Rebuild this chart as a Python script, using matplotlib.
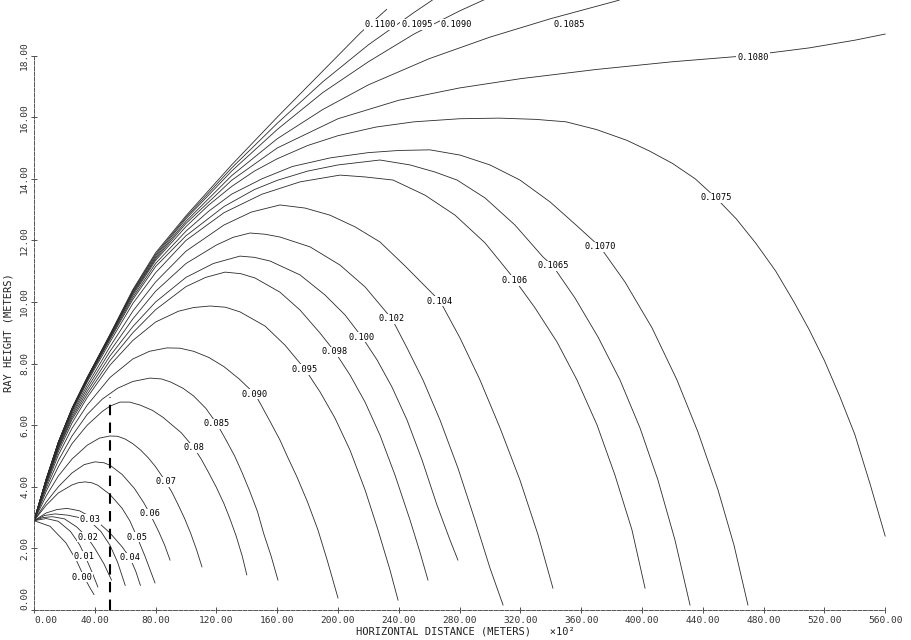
import matplotlib
matplotlib.use("Agg")
import matplotlib.pyplot as plt

# ---------------- data (x in 100 m, y in m) ----------------
x_ticks = [0, 40, 80, 120, 160, 200, 240, 280, 320, 360, 400, 440, 480, 520, 560]
y_ticks = [0, 2, 4, 6, 8, 10, 12, 14, 16, 18]

r_0000_x = [0, 10.5, 21, 28, 33, 36.8, 39.5]
r_0000_y = [2.9, 2.72, 2.18, 1.6, 1.07, 0.72, 0.5]
r_0010_x = [0, 8, 16, 24, 30, 33.6, 38, 42]
r_0010_y = [2.9, 2.97, 2.88, 2.55, 2.12, 1.75, 1.25, 0.75]
r_0020_x = [0, 6, 12, 20, 28, 34.9, 40, 46, 51]
r_0020_y = [2.9, 3.0, 3.03, 2.96, 2.7, 2.37, 2.0, 1.5, 0.97]
r_0030_x = [0, 7, 13.8, 22, 30, 36.8, 44, 50, 55, 60]
r_0030_y = [2.9, 3.07, 3.12, 3.08, 3.0, 2.88, 2.55, 2.1, 1.55, 0.8]
r_0040_x = [0, 8, 15, 21.7, 30, 40, 50, 58, 63.2, 67, 70]
r_0040_y = [2.9, 3.15, 3.26, 3.3, 3.22, 2.95, 2.5, 2.05, 1.69, 1.25, 0.8]
r_0050_x = [0, 8, 16, 25, 29, 33.6, 38, 42, 50, 58, 63, 67.8, 73, 79.6]
r_0050_y = [2.9, 3.4, 3.8, 4.06, 4.13, 4.16, 4.13, 4.05, 3.75, 3.3, 2.9, 2.37, 1.75, 0.88]
r_0060_x = [0, 8, 16, 25, 33, 40.1, 46, 50, 58, 66, 72, 76.3, 82, 86, 89.5]
r_0060_y = [2.9, 3.5, 4.0, 4.45, 4.72, 4.81, 4.78, 4.7, 4.4, 3.95, 3.5, 3.12, 2.55, 2.1, 1.62]
r_0070_x = [0, 8, 16, 25, 35, 43, 50, 55, 60, 65, 70, 75, 80, 86.8, 91, 95, 99, 103, 107, 110.5]
r_0070_y = [2.9, 3.7, 4.35, 4.9, 5.35, 5.58, 5.65, 5.64, 5.55, 5.4, 5.2, 4.95, 4.65, 4.16, 3.8, 3.4, 2.98, 2.5, 1.95, 1.4]
r_0080_x = [0, 8, 16, 25, 35, 45, 50, 56.6, 63, 70, 78, 85, 91, 97, 105.3, 110, 115, 120, 125, 129, 133, 137, 140]
r_0080_y = [2.9, 3.85, 4.65, 5.4, 6.0, 6.45, 6.62, 6.75, 6.75, 6.65, 6.48, 6.25, 6.0, 5.75, 5.26, 4.9, 4.45, 3.98, 3.45, 2.95, 2.4, 1.75, 1.14]
r_0085_x = [0, 8, 16, 25, 35, 45, 55, 65, 76.3, 84, 90, 98, 105, 113, 120.4, 126, 132, 137, 142, 147, 151, 156, 160.5]
r_0085_y = [2.9, 3.95, 4.85, 5.65, 6.35, 6.85, 7.2, 7.42, 7.53, 7.5, 7.4, 7.2, 6.95, 6.55, 6.04, 5.55, 5.0, 4.45, 3.85, 3.2, 2.5, 1.75, 0.97]
r_0090_x = [0, 8, 16, 25, 35, 50, 65, 76, 87.5, 96, 105, 115, 125, 135, 145.4, 148.7, 155, 161.8, 167, 173, 180, 186.8, 193, 200]
r_0090_y = [2.9, 4.03, 5.03, 5.9, 6.65, 7.55, 8.15, 8.4, 8.51, 8.5, 8.4, 8.2, 7.9, 7.5, 7.01, 6.72, 6.15, 5.52, 4.95, 4.32, 3.5, 2.6, 1.6, 0.39]
r_0095_x = [0, 8, 16, 25, 35, 50, 65, 80, 95, 105, 115.8, 126, 135.5, 152, 165.1, 178.3, 188.2, 198, 207.9, 217.8, 226.3, 234.2, 239.5]
r_0095_y = [2.9, 4.09, 5.14, 6.07, 6.9, 7.95, 8.75, 9.35, 9.7, 9.82, 9.87, 9.83, 9.68, 9.22, 8.6, 7.82, 7.08, 6.23, 5.19, 3.9, 2.6, 1.3, 0.32]
r_0098_x = [0, 8, 16, 25, 35, 50, 65, 80, 100, 113, 125.7, 136, 145.4, 161.8, 175, 188.2, 198, 207.9, 217.8, 227.6, 237.5, 247.4, 253.9, 259.2]
r_0098_y = [2.9, 4.13, 5.22, 6.18, 7.0, 8.1, 9.0, 9.75, 10.5, 10.8, 10.97, 10.92, 10.78, 10.32, 9.74, 8.99, 8.38, 7.63, 6.75, 5.68, 4.38, 2.92, 1.88, 0.97]
r_0100_x = [0, 8, 16, 25, 35, 50, 65, 80, 100, 118, 135.5, 145, 155.3, 175, 191.4, 204.6, 215.8, 225.7, 235.5, 245.4, 255.3, 265.1, 273.7, 278.9]
r_0100_y = [2.9, 4.15, 5.26, 6.25, 7.1, 8.25, 9.2, 10.0, 10.8, 11.25, 11.49, 11.45, 11.33, 10.88, 10.23, 9.58, 8.86, 8.12, 7.24, 6.17, 4.87, 3.41, 2.27, 1.62]
r_0102_x = [0, 8, 16, 25, 35, 50, 65, 80, 100, 120, 131, 142.1, 152, 161.8, 181.6, 201.3, 217.8, 235.5, 245.4, 255.9, 267.1, 278.9, 290.1, 300, 308.6]
r_0102_y = [2.9, 4.17, 5.3, 6.32, 7.2, 8.4, 9.45, 10.35, 11.25, 11.85, 12.1, 12.24, 12.2, 12.11, 11.79, 11.2, 10.49, 9.45, 8.51, 7.47, 6.17, 4.61, 2.92, 1.36, 0.16]
r_0104_x = [0, 8, 16, 25, 35, 50, 65, 80, 100, 125, 143, 161.8, 178.3, 194.7, 211.2, 227.6, 244.1, 261.8, 267.1, 280.3, 293.4, 306.6, 319.7, 331.6, 341.4]
r_0104_y = [2.9, 4.19, 5.34, 6.38, 7.3, 8.55, 9.7, 10.65, 11.65, 12.5, 12.92, 13.15, 13.05, 12.82, 12.44, 11.95, 11.17, 10.29, 10.03, 8.83, 7.47, 5.91, 4.22, 2.44, 0.71]
r_1060_x = [0, 8, 16, 25, 35, 50, 65, 80, 100, 125, 150, 175, 201.3, 217.8, 236.2, 257.2, 277, 296.7, 311.2, 316.4, 329.6, 344.1, 357.2, 370.4, 382.2, 393.4, 402]
r_1060_y = [2.9, 4.21, 5.38, 6.44, 7.4, 8.7, 9.95, 10.95, 12.0, 12.9, 13.5, 13.9, 14.12, 14.06, 13.96, 13.47, 12.82, 11.92, 11.04, 10.71, 9.81, 8.7, 7.47, 6.01, 4.38, 2.6, 0.71]
r_1065_x = [0, 8, 16, 25, 35, 50, 65, 80, 100, 125, 145, 160, 180, 200, 227.6, 247.4, 263.8, 278.3, 296.7, 316.4, 334.9, 341.4, 355.9, 371.1, 385.5, 398.7, 410.5, 421.7, 431.6]
r_1065_y = [2.9, 4.22, 5.4, 6.47, 7.45, 8.78, 10.08, 11.15, 12.15, 13.1, 13.65, 13.95, 14.25, 14.45, 14.61, 14.45, 14.22, 13.96, 13.38, 12.5, 11.46, 11.17, 10.13, 8.86, 7.47, 5.91, 4.22, 2.27, 0.16]
r_1070_x = [0, 8, 16, 25, 35, 50, 65, 80, 100, 115, 130, 150, 170, 195, 220, 240, 260.5, 280.3, 300, 319.7, 339.5, 355.9, 372.4, 388.8, 406.6, 423, 436.8, 450, 460.5, 469.7]
r_1070_y = [2.9, 4.22, 5.41, 6.49, 7.47, 8.82, 10.15, 11.25, 12.3, 12.95, 13.5, 14.0, 14.4, 14.68, 14.85, 14.92, 14.94, 14.77, 14.45, 13.96, 13.25, 12.53, 11.79, 10.65, 9.16, 7.47, 5.78, 3.9, 2.11, 0.16]
r_1075_x = [0, 8, 16, 25, 35, 50, 65, 80, 100, 115, 130, 145, 160, 180, 200, 225, 250, 280, 306, 330, 350, 370, 390, 405, 420, 435, 448.7, 462, 475, 488, 500, 510, 520, 530, 540, 550, 560]
r_1075_y = [2.9, 4.23, 5.42, 6.51, 7.5, 8.86, 10.22, 11.35, 12.45, 13.15, 13.75, 14.25, 14.65, 15.08, 15.4, 15.68, 15.85, 15.95, 15.97, 15.93, 15.85, 15.6, 15.25, 14.9, 14.5, 14.0, 13.38, 12.7, 11.9, 11.0, 10.0, 9.1, 8.1, 6.95, 5.7, 4.1, 2.4]
r_1080_x = [0, 8, 16, 25, 35, 50, 65, 80, 100, 130, 160, 200, 240, 280, 320, 370, 420, 470, 510, 540, 560]
r_1080_y = [2.9, 4.23, 5.43, 6.52, 7.52, 8.88, 10.27, 11.4, 12.55, 13.95, 15.0, 15.95, 16.55, 16.95, 17.25, 17.55, 17.8, 18.0, 18.25, 18.5, 18.7]
r_1085_x = [0, 8, 16, 25, 35, 50, 65, 80, 100, 130, 160, 190, 220, 260, 300, 340, 370, 385]
r_1085_y = [2.9, 4.24, 5.44, 6.53, 7.53, 8.9, 10.3, 11.45, 12.62, 14.1, 15.3, 16.25, 17.05, 17.9, 18.6, 19.2, 19.6, 19.8]
r_1090_x = [0, 8, 16, 25, 35, 50, 65, 80, 100, 130, 160, 190, 220, 250, 280, 300]
r_1090_y = [2.9, 4.24, 5.44, 6.54, 7.54, 8.92, 10.34, 11.5, 12.7, 14.25, 15.6, 16.8, 17.8, 18.7, 19.45, 19.9]
r_1095_x = [0, 8, 16, 25, 35, 50, 65, 80, 100, 130, 160, 190, 220, 250, 262]
r_1095_y = [2.9, 4.25, 5.45, 6.55, 7.55, 8.93, 10.37, 11.55, 12.75, 14.35, 15.8, 17.15, 18.35, 19.4, 19.8]
r_1100_x = [0, 8, 16, 25, 35, 50, 65, 80, 100, 130, 160, 190, 215, 232]
r_1100_y = [2.9, 4.25, 5.45, 6.55, 7.55, 8.95, 10.4, 11.6, 12.8, 14.45, 16.0, 17.5, 18.75, 19.5]

ray_labels = ["0.00", "0.01", "0.02", "0.03", "0.04", "0.05", "0.06", "0.07", "0.08",
              "0.085", "0.090", "0.095", "0.098", "0.100", "0.102", "0.104", "0.106",
              "0.1065", "0.1070", "0.1075", "0.1080", "0.1085", "0.1090", "0.1095", "0.1100"]
label_x = [31.6, 32.9, 35.5, 36.8, 63.2, 67.8, 76.3, 86.8, 105.3, 120.4, 145.4, 178.3, 198,
           215.8, 235.5, 267, 316.4, 341.4, 372.4, 448.7, 473, 352, 278, 252, 228]
label_y = [1.07, 1.75, 2.37, 2.95, 1.69, 2.37, 3.12, 4.16, 5.26, 6.04, 7.01, 7.82, 8.38,
           8.86, 9.45, 10.03, 10.7, 11.17, 11.79, 13.38, 17.95, 19.0, 19.0, 19.0, 19.0]

dash_x = 50
dash_top = 6.9

rays_x = [r_0000_x, r_0010_x, r_0020_x, r_0030_x, r_0040_x, r_0050_x, r_0060_x, r_0070_x,
          r_0080_x, r_0085_x, r_0090_x, r_0095_x, r_0098_x, r_0100_x, r_0102_x, r_0104_x,
          r_1060_x, r_1065_x, r_1070_x, r_1075_x, r_1080_x, r_1085_x, r_1090_x, r_1095_x, r_1100_x]
rays_y = [r_0000_y, r_0010_y, r_0020_y, r_0030_y, r_0040_y, r_0050_y, r_0060_y, r_0070_y,
          r_0080_y, r_0085_y, r_0090_y, r_0095_y, r_0098_y, r_0100_y, r_0102_y, r_0104_y,
          r_1060_y, r_1065_y, r_1070_y, r_1075_y, r_1080_y, r_1085_y, r_1090_y, r_1095_y, r_1100_y]

# ---------------- figure ----------------
W, H = 912, 640
fig = plt.figure(figsize=(W / 100, H / 100), dpi=100)
x0px, y0px = 34, 610
xmax = (W - x0px) / 1.52
ymax = y0px / 30.8
ax = fig.add_axes([x0px / W, (H - y0px) / H, (W - x0px) / W, y0px / H])
ax.set_xlim(0, xmax)
ax.set_ylim(0, ymax)

mono = "DejaVu Sans Mono"
line_col = "#2b2b2b"
for xs, ys in zip(rays_x, rays_y):
    ax.plot(xs, ys, color=line_col, lw=0.6, solid_joinstyle="round", zorder=2)

for t, lx, ly in zip(ray_labels, label_x, label_y):
    ax.text(lx, ly, t, fontsize=6.2, family=mono, ha="center", va="center", zorder=4,
            bbox=dict(facecolor="white", edgecolor="none", pad=0.6))

ax.plot([dash_x, dash_x], [0, dash_top], color="black", lw=1.5, ls=(0, (5, 3.5)), zorder=3)

for s in ["top", "right"]:
    ax.spines[s].set_visible(False)
ax.spines["bottom"].set_bounds(0, 560)
ax.spines["left"].set_bounds(0, 18)
for s in ["bottom", "left"]:
    ax.spines[s].set_linewidth(0.7)
    ax.spines[s].set_color("#555555")
    ax.spines[s].set_linestyle((0, (4, 1.5)))

ax.set_xticks(x_ticks)
ax.set_xticklabels([f"{v:.2f}" for v in x_ticks], family=mono, fontsize=6.8)
ax.set_yticks(y_ticks)
ax.set_yticklabels([f"{v:.2f}" for v in y_ticks], family=mono, fontsize=6.8,
                   rotation=90, va="center")
ax.get_yticklabels()[0].set_va("bottom")
ax.get_xticklabels()[0].set_ha("left")
ax.tick_params(direction="inout", length=5, width=0.6, colors="#333333", pad=2)
ax.tick_params(axis="y", pad=1)

fig.text(465 / W, 1 - 631 / H, "HORIZONTAL DISTANCE (METERS)   \u00d710\u00b2",
         family=mono, fontsize=7.5, ha="center", va="center", color="#222222")
fig.text(9 / W, 1 - 333 / H, "RAY HEIGHT (METERS)", family=mono, fontsize=7.5,
         rotation=90, ha="center", va="center", color="#222222")

fig.savefig("out.png", dpi=100)
